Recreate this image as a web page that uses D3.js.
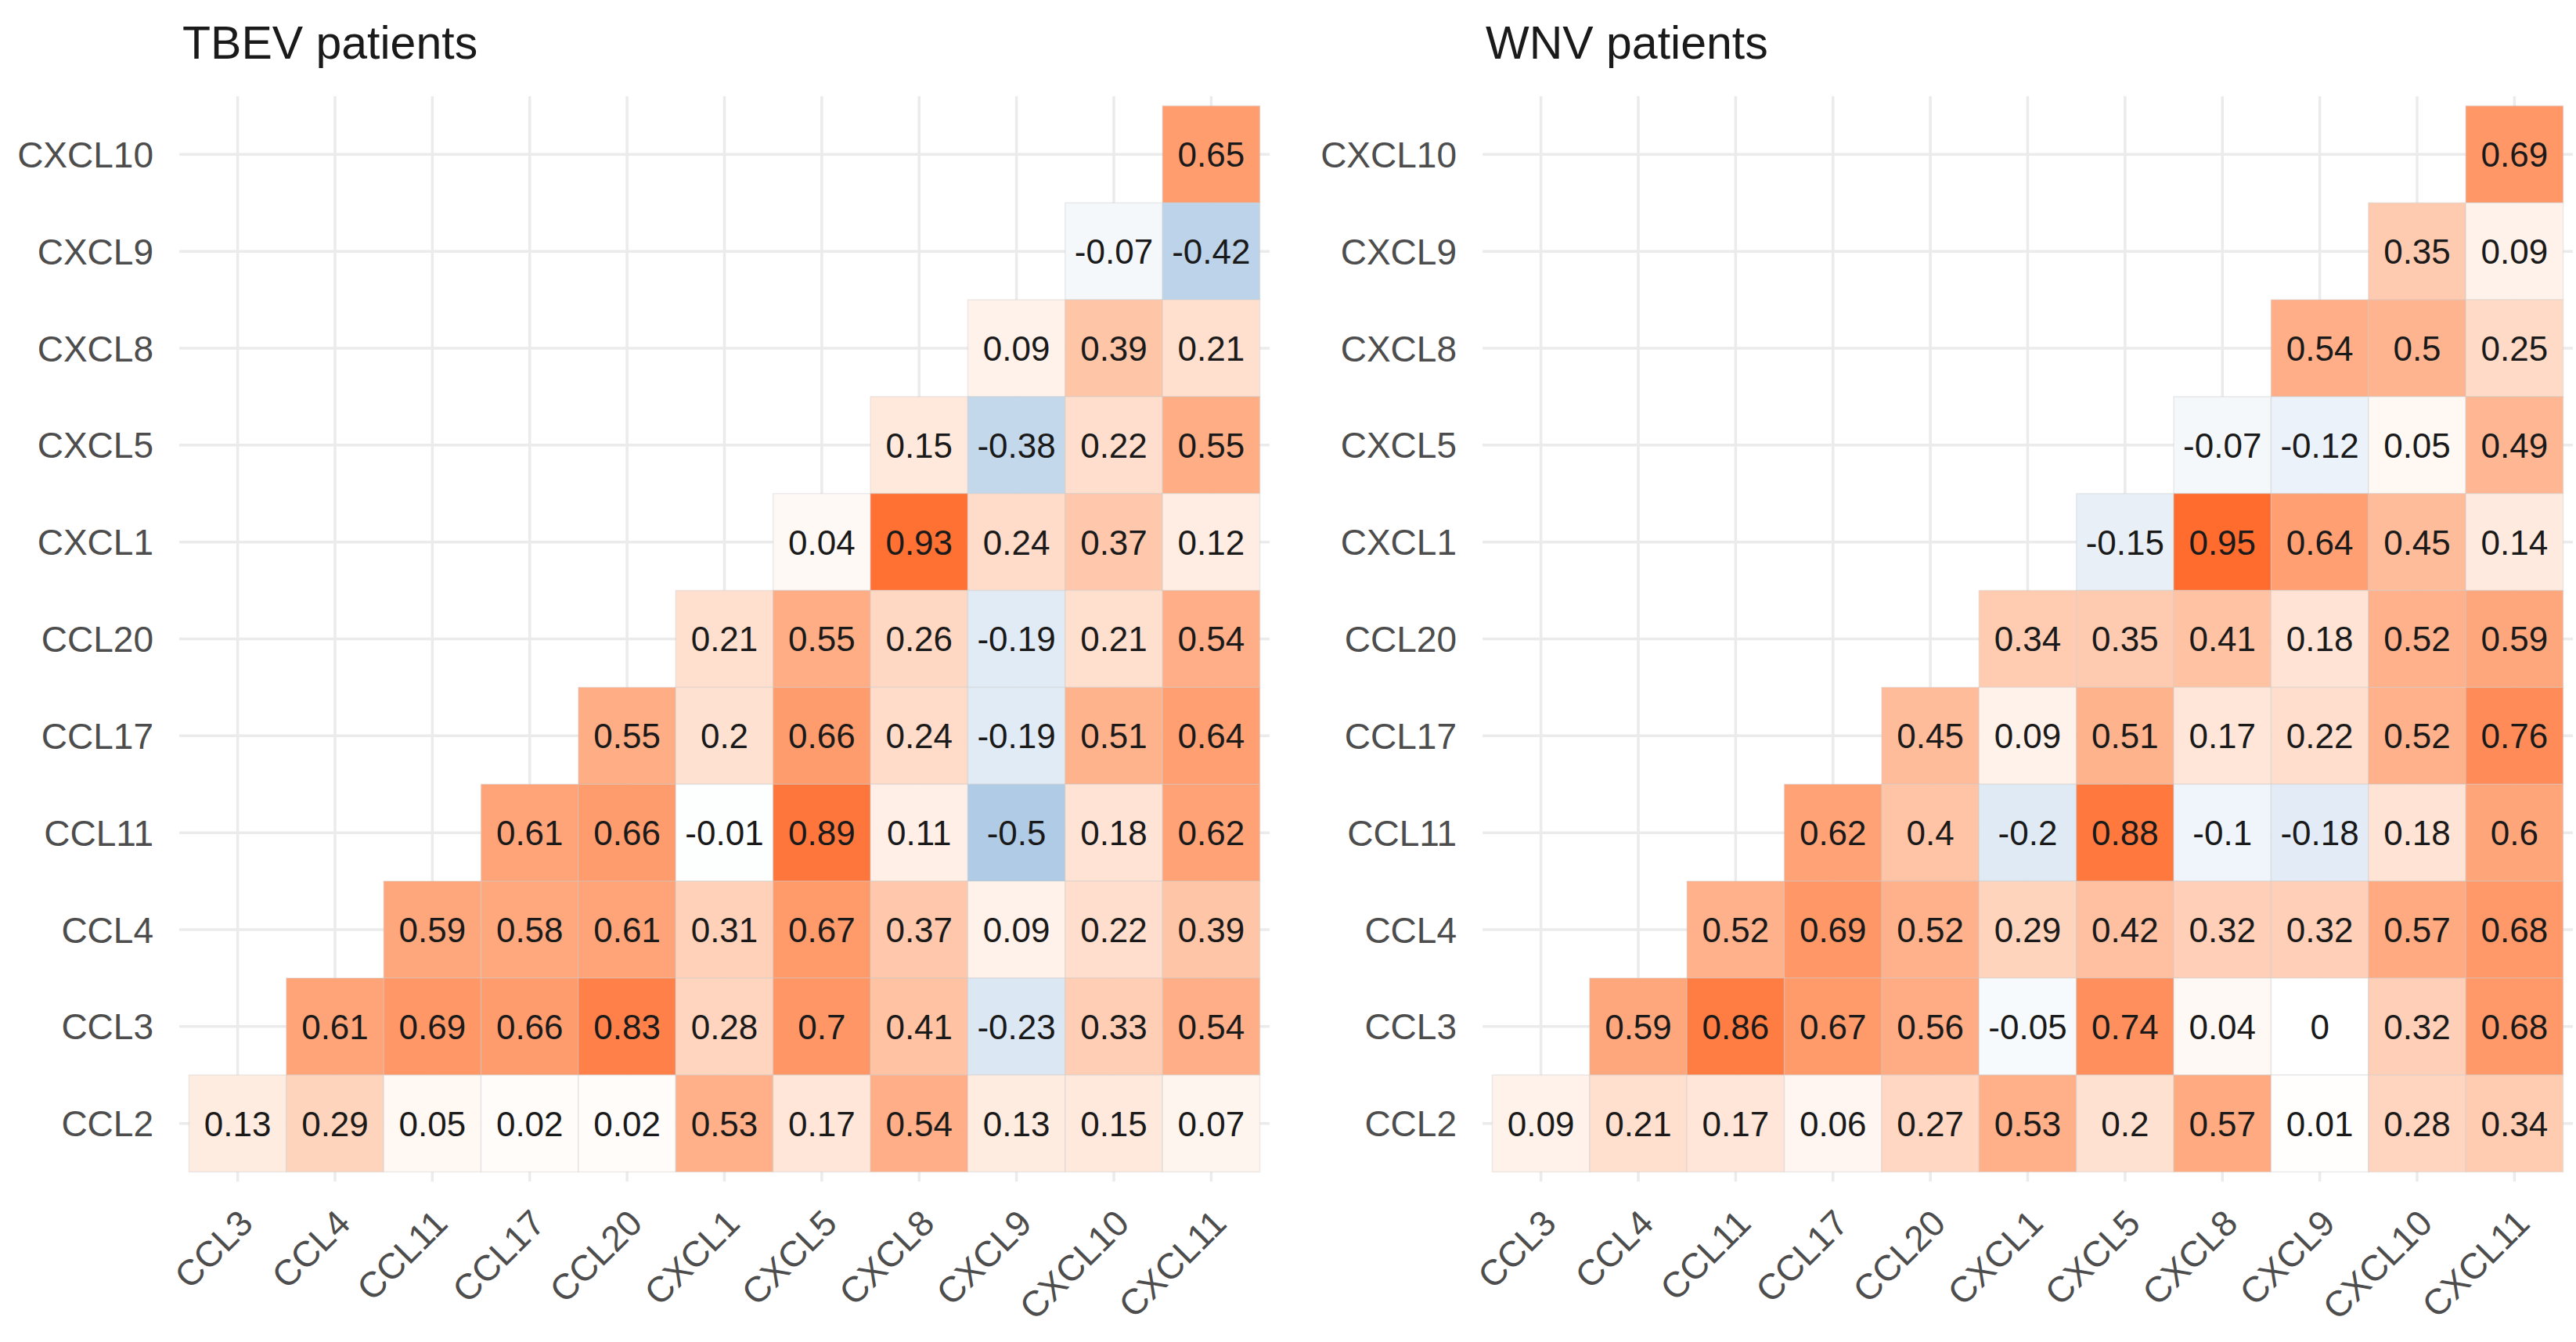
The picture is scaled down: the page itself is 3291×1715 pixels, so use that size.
<!DOCTYPE html>
<html>
<head>
<meta charset="utf-8">
<script src="https://cdn.jsdelivr.net/npm/d3@7"></script>
<style>
  body { margin: 0; background: #fff; }
  text { font-family: "Liberation Sans", Arial, sans-serif; }
</style>
</head>
<body>
<div id="chart"></div>
<script>
// ------------------------------------------------------------ Data
var rowGenes = ['CXCL10', 'CXCL9', 'CXCL8', 'CXCL5', 'CXCL1', 'CCL20', 'CCL17', 'CCL11', 'CCL4', 'CCL3', 'CCL2'];
var colGenes = ['CCL3', 'CCL4', 'CCL11', 'CCL17', 'CCL20', 'CXCL1', 'CXCL5', 'CXCL8', 'CXCL9', 'CXCL10', 'CXCL11'];
var titles   = ['TBEV patients', 'WNV patients'];

// rows are written left to right and right-aligned onto the columns
var tbevValues = [
  [0.65],
  [-0.07, -0.42],
  [0.09, 0.39, 0.21],
  [0.15, -0.38, 0.22, 0.55],
  [0.04, 0.93, 0.24, 0.37, 0.12],
  [0.21, 0.55, 0.26, -0.19, 0.21, 0.54],
  [0.55, 0.2, 0.66, 0.24, -0.19, 0.51, 0.64],
  [0.61, 0.66, -0.01, 0.89, 0.11, -0.5, 0.18, 0.62],
  [0.59, 0.58, 0.61, 0.31, 0.67, 0.37, 0.09, 0.22, 0.39],
  [0.61, 0.69, 0.66, 0.83, 0.28, 0.7, 0.41, -0.23, 0.33, 0.54],
  [0.13, 0.29, 0.05, 0.02, 0.02, 0.53, 0.17, 0.54, 0.13, 0.15, 0.07]
];

var wnvValues = [
  [0.69],
  [0.35, 0.09],
  [0.54, 0.5, 0.25],
  [-0.07, -0.12, 0.05, 0.49],
  [-0.15, 0.95, 0.64, 0.45, 0.14],
  [0.34, 0.35, 0.41, 0.18, 0.52, 0.59],
  [0.45, 0.09, 0.51, 0.17, 0.22, 0.52, 0.76],
  [0.62, 0.4, -0.2, 0.88, -0.1, -0.18, 0.18, 0.6],
  [0.52, 0.69, 0.52, 0.29, 0.42, 0.32, 0.32, 0.57, 0.68],
  [0.59, 0.86, 0.67, 0.56, -0.05, 0.74, 0.04, 0, 0.32, 0.68],
  [0.09, 0.21, 0.17, 0.06, 0.27, 0.53, 0.2, 0.57, 0.01, 0.28, 0.34]
];
// ----------------------------------------------------------- /Data

var W = 3291, H = 1715;
var panelW = 1393, panelH = 1387,
    panelTop = 123,
    panelLefts = [229, 1894];

var color = d3.scaleLinear()
    .domain([-1, 0, 1])
    .range(['#5a9acb', '#ffffff', '#ff6322'])
    .interpolate(d3.interpolateLab);

var svg = d3.select('#chart').append('svg')
    .attr('width', W)
    .attr('height', H);

function toCells(values) {
  var cells = [];
  values.forEach(function(row, i) {
    var offset = colGenes.length - row.length;
    row.forEach(function(v, j) {
      cells.push({row: rowGenes[i], col: colGenes[offset + j], value: v});
    });
  });
  return cells;
}

[tbevValues, wnvValues].forEach(function(values, p) {
  var left = panelLefts[p];
  var stepX = panelW / 11.2, stepY = panelH / 11.2;

  var x = d3.scaleBand().domain(colGenes)
      .range([left + 0.1 * stepX, left + panelW - 0.1 * stepX]);
  var y = d3.scaleBand().domain(rowGenes)
      .range([panelTop + 0.1 * stepY, panelTop + panelH - 0.1 * stepY]);

  var g = svg.append('g');

  // grid lines
  var gx = g.append('g')
      .attr('transform', 'translate(0,' + (panelTop + panelH) + ')')
      .call(d3.axisBottom(x).tickSize(-panelH).tickFormat(''));
  var gy = g.append('g')
      .attr('transform', 'translate(' + left + ',0)')
      .call(d3.axisLeft(y).tickSize(-panelW).tickFormat(''));
  [gx, gy].forEach(function(a) {
    a.select('.domain').remove();
    a.selectAll('line').attr('stroke', '#ebebeb').attr('stroke-width', 3.5);
  });

  var cells = toCells(values);

  g.append('g').selectAll('rect')
      .data(cells)
    .enter().append('rect')
      .attr('x', function(d) { return x(d.col); })
      .attr('y', function(d) { return y(d.row); })
      .attr('width', x.bandwidth())
      .attr('height', y.bandwidth())
      .attr('fill', function(d) { return color(d.value); })
      .attr('stroke', 'rgba(200,200,200,0.35)')
      .attr('stroke-width', 1.5);

  g.append('g').selectAll('text')
      .data(cells)
    .enter().append('text')
      .attr('x', function(d) { return x(d.col) + x.bandwidth() / 2; })
      .attr('y', function(d) { return y(d.row) + y.bandwidth() / 2; })
      .attr('dy', '0.36em')
      .attr('text-anchor', 'middle')
      .attr('font-size', 44)
      .attr('fill', '#1a1a1a')
      .text(function(d) { return String(d.value); });

  // axis labels
  var ay = g.append('g')
      .attr('transform', 'translate(' + (left - 33) + ',0)')
      .call(d3.axisLeft(y).tickSize(0).tickPadding(0));
  ay.select('.domain').remove();
  ay.selectAll('text')
      .attr('font-size', 46)
      .attr('fill', '#4d4d4d')
      .attr('dy', '0.36em');

  var ax = g.append('g')
      .attr('transform', 'translate(0,' + (panelTop + panelH) + ')')
      .call(d3.axisBottom(x).tickSize(0).tickPadding(0));
  ax.select('.domain').remove();
  ax.selectAll('text')
      .attr('font-size', 46)
      .attr('fill', '#4d4d4d')
      .attr('y', 0)
      .attr('dy', 0)
      .attr('text-anchor', 'end')
      .attr('transform', 'translate(22,56) rotate(-45)');

  g.append('text')
      .attr('x', left + 4)
      .attr('y', 75)
      .attr('font-size', 59)
      .attr('fill', '#1a1a1a')
      .text(titles[p]);
});
</script>
</body>
</html>
